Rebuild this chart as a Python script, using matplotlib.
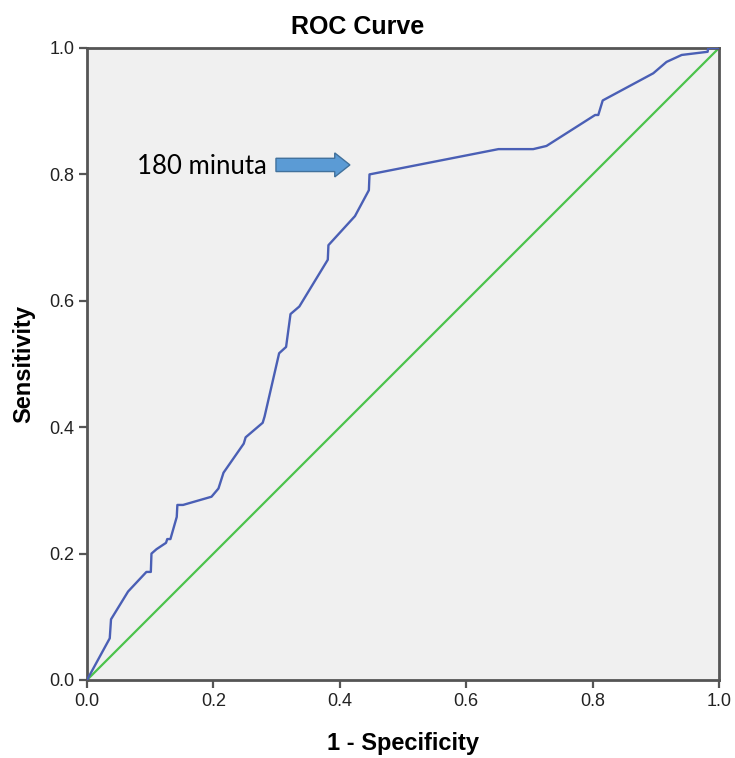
import matplotlib
matplotlib.use("Agg")
import matplotlib.pyplot as plt
from matplotlib.patches import FancyArrow

# ROC curve points (1 - specificity, sensitivity)
fpr = [0.000, 0.036, 0.038, 0.065, 0.094, 0.101, 0.102, 0.110, 0.125, 0.127,
       0.132, 0.142, 0.143, 0.152, 0.197, 0.208, 0.216, 0.248, 0.251, 0.278,
       0.281, 0.304, 0.315, 0.322, 0.336, 0.381, 0.382, 0.424, 0.446, 0.447,
       0.651, 0.706, 0.727, 0.804, 0.809, 0.816, 0.896, 0.917, 0.941, 0.982,
       0.983, 1.000]
tpr = [0.000, 0.066, 0.096, 0.140, 0.171, 0.171, 0.200, 0.207, 0.217, 0.223,
       0.223, 0.258, 0.277, 0.277, 0.290, 0.303, 0.328, 0.374, 0.384, 0.407,
       0.417, 0.517, 0.527, 0.579, 0.591, 0.665, 0.688, 0.734, 0.775, 0.800,
       0.840, 0.840, 0.845, 0.894, 0.894, 0.917, 0.960, 0.978, 0.989, 0.994,
       1.000, 1.000]
ref_x = [0.0, 1.0]
ref_y = [0.0, 1.0]
ticks = [0.0, 0.2, 0.4, 0.6, 0.8, 1.0]
tick_labels = ["0.0", "0.2", "0.4", "0.6", "0.8", "1.0"]
annot_text = "180 minuta"
annot_point = (0.285, 0.812)

plt.rcParams['font.family'] = ['Liberation Sans', 'DejaVu Sans']

fig = plt.figure(figsize=(7.35, 7.58), dpi=100)
ax = fig.add_axes([87/735, 78/758, 632/735, 632/758])
ax.set_facecolor('#F0F0F0')

ax.plot(ref_x, ref_y, color='#4CC34C', lw=1.6, zorder=2)
ax.plot(fpr, tpr, color='#4A5FB5', lw=1.7, zorder=3)

ax.set_xlim(0, 1)
ax.set_ylim(0, 1)
ax.set_xticks(ticks)
ax.set_xticklabels(tick_labels)
ax.set_yticks(ticks)
ax.set_yticklabels(tick_labels)
ax.tick_params(axis='both', direction='out', length=6, width=1.6, color='#555555',
               labelsize=13, labelcolor='#222222', pad=3)
for s in ax.spines.values():
    s.set_color('#555555')
    s.set_linewidth(2)

ax.set_xlabel("1 - Specificity", fontsize=17, fontweight='bold', labelpad=16)
ax.set_ylabel("Sensitivity", fontsize=17, fontweight='bold', labelpad=10)
fig.text(358/735, 1 - 27/758, "ROC Curve", fontsize=18, fontweight='bold',
         ha='center', va='center')

# annotation arrow and text
arrow = FancyArrow(0.299, 0.815, 0.117, 0.0, width=0.021, head_width=0.038,
                   head_length=0.024, length_includes_head=True,
                   facecolor='#5B9BD5', edgecolor='#41719C', lw=1.0, zorder=4)
ax.add_patch(arrow)
ax.text(annot_point[0], annot_point[1], annot_text, fontsize=18.5,
        family=['Lato', 'DejaVu Sans'], ha='right', va='center', color='black', zorder=5)

fig.savefig("out.png", dpi=100)
